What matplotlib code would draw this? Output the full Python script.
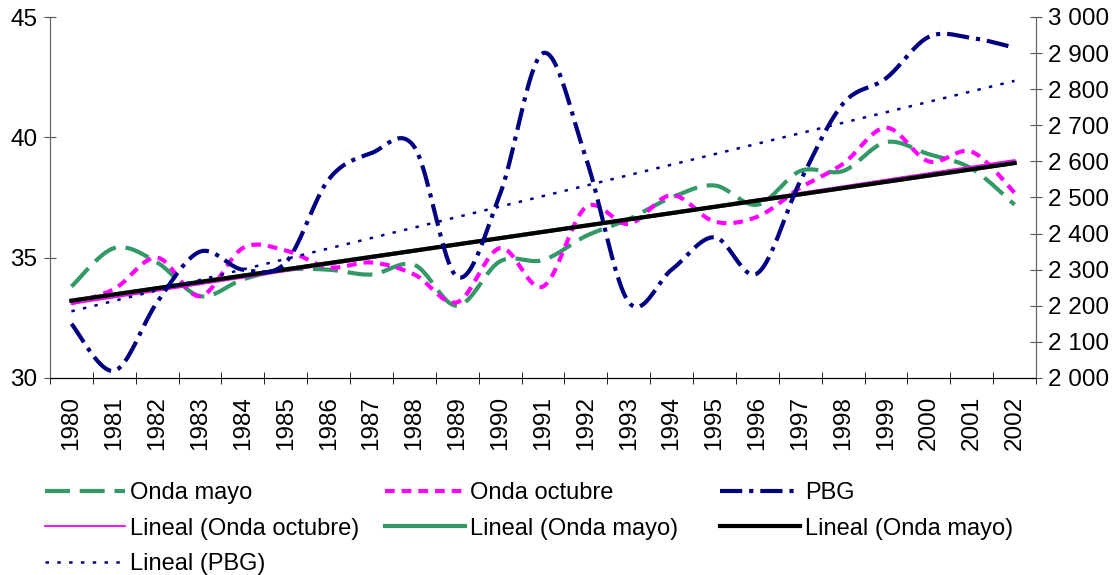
import numpy as np
import matplotlib
matplotlib.use("Agg")
import matplotlib.pyplot as plt
from matplotlib.ticker import FuncFormatter, FixedLocator

plt.rcParams['font.family'] = ['Liberation Sans', 'DejaVu Sans']
plt.rcParams['lines.scale_dashes'] = False

years = list(range(1980, 2003))
onda_mayo = [33.8, 35.4, 34.8, 33.4, 34.1, 34.5, 34.5, 34.3, 34.7, 33.0, 34.85, 34.9,
             35.9, 36.6, 37.5, 38.0, 37.2, 38.6, 38.6, 39.8, 39.3, 38.7, 37.2]
onda_octubre = [33.1, 33.7, 35.0, 33.4, 35.4, 35.3, 34.6, 34.8, 34.3, 33.15, 35.4, 33.8,
                37.1, 36.4, 37.6, 36.5, 36.7, 37.9, 38.9, 40.4, 39.0, 39.4, 37.7]
pbg = [2150, 2020, 2210, 2350, 2300, 2320, 2550, 2623, 2640, 2280, 2510, 2900,
       2610, 2210, 2300, 2390, 2290, 2545, 2760, 2830, 2945, 2942, 2915]

left_ticks = [30, 35, 40, 45]
right_ticks = list(range(2000, 3001, 100))


def smooth(x, y, n=24):
    # curva suavizada tipo Excel (Catmull-Rom / Bezier)
    x = np.asarray(x, float)
    y = np.asarray(y, float)
    px = np.concatenate([[x[0]], x, [x[-1]]])
    py = np.concatenate([[y[0]], y, [y[-1]]])
    xs, ys = [], []
    t = np.linspace(0, 1, n)
    for i in range(1, len(px) - 2):
        p0 = np.array([px[i], py[i]])
        p3 = np.array([px[i + 1], py[i + 1]])
        p1 = p0 + (p3 - np.array([px[i - 1], py[i - 1]])) / 6
        p2 = p3 - (np.array([px[i + 2], py[i + 2]]) - p0) / 6
        b = ((1 - t) ** 3)[:, None] * p0 + (3 * (1 - t) ** 2 * t)[:, None] * p1 \
            + (3 * (1 - t) * t ** 2)[:, None] * p2 + (t ** 3)[:, None] * p3
        if i > 1:
            b = b[1:]
        xs.extend(b[:, 0])
        ys.extend(b[:, 1])
    return np.array(xs), np.array(ys)


def trend(x, y):
    a, b = np.polyfit(x, y, 1)
    return a * np.asarray(x) + b


fig = plt.figure(figsize=(11.14, 5.75), dpi=100)
ax = fig.add_axes([50 / 1114, 1 - 378 / 575, (1036 - 50) / 1114, 361 / 575])
ax2 = ax.twinx()

x = np.arange(len(years))
fs = 17.5

green = '#339966'
magenta = '#FF00FF'
navy = '#000080'

sx, sy = smooth(x, onda_mayo)
l_mayo, = ax.plot(sx, sy, color=green, lw=3.0, dashes=[18, 7], label='Onda mayo')
sx, sy = smooth(x, onda_octubre)
l_oct, = ax.plot(sx, sy, color=magenta, lw=3.0, dashes=[7, 5], label='Onda octubre')

l_tr_oct, = ax.plot(x, trend(x, onda_octubre), color=magenta, lw=1.3, label='Lineal (Onda octubre)')
l_tr_mg, = ax.plot(x, trend(x, onda_mayo), color=green, lw=3.0, label='Lineal (Onda mayo)')
l_tr_mk, = ax.plot(x, trend(x, onda_mayo), color='black', lw=3.0, label='Lineal (Onda mayo)')

sx, sy = smooth(x, pbg)
l_pbg, = ax2.plot(sx, sy, color=navy, lw=3.0, dashes=[16, 5, 3, 5], label='PBG')
l_tr_pbg, = ax2.plot(x, trend(x, pbg), color=navy, lw=1.8, dashes=[2.5, 6], label='Lineal (PBG)')

ax.set_xlim(-0.5, len(years) - 0.5)
ax.set_ylim(30, 45)
ax2.set_ylim(2000, 3000)

ax.set_yticks(left_ticks)
ax2.set_yticks(right_ticks)
ax2.yaxis.set_major_formatter(FuncFormatter(lambda v, p: f"{int(v):,}".replace(",", " ")))

ax.set_xticks(x)
ax.set_xticklabels([str(a) for a in years], rotation=90)
ax.xaxis.set_minor_locator(FixedLocator(np.arange(-0.5, len(years), 1.0)))
ax.tick_params(axis='x', which='major', length=0, pad=13, labelsize=fs)
ax.tick_params(axis='x', which='minor', length=9, direction='inout', color='black')
ax.tick_params(axis='y', length=8, direction='inout', labelsize=fs, pad=5, color='#555555')
ax2.tick_params(axis='y', length=8, direction='inout', labelsize=fs, pad=5, color='#555555')

for a in (ax, ax2):
    a.spines['top'].set_visible(False)
    a.spines['left'].set_color('#666666')
    a.spines['right'].set_color('#666666')
    a.spines['bottom'].set_color('black')

leg_kw = dict(loc='upper left', frameon=False, fontsize=17, handlelength=3.4,
              handletextpad=0.2, labelspacing=0.58, borderpad=0, borderaxespad=0)
top = 1 - 482 / 575
fig.legend(handles=[l_mayo, l_tr_oct, l_tr_pbg], bbox_to_anchor=(45 / 1114, top), **leg_kw)
fig.legend(handles=[l_oct, l_tr_mg], bbox_to_anchor=(385 / 1114, top), **leg_kw)
fig.legend(handles=[l_pbg, l_tr_mk], bbox_to_anchor=(720 / 1114, top), **leg_kw)

fig.savefig('out.png', dpi=100)
